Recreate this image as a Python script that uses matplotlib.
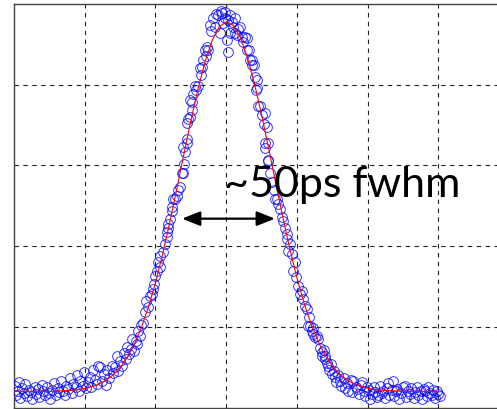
import matplotlib
matplotlib.use("Agg")
import matplotlib.pyplot as plt

# Measured pulse samples (time in grid units, amplitude in grid units)
left_tail = [(0.02,0.27),(0.03,0.15),(0.05,0.21),(0.07,0.31),(0.09,0.12),(0.12,0.24),(0.14,0.18),
             (0.16,0.29),(0.19,0.14),(0.21,0.22),(0.24,0.19),(0.26,0.10),(0.29,0.26),(0.31,0.17),
             (0.34,0.23),(0.36,0.13),(0.39,0.28),(0.41,0.20),(0.44,0.15),(0.46,0.25),(0.49,0.18),
             (0.51,0.11),(0.54,0.22),(0.57,0.30),(0.59,0.16),(0.62,0.24),(0.64,0.19),(0.67,0.33),
             (0.69,0.21),(0.72,0.15),(0.74,0.27),(0.77,0.23),(0.79,0.36),(0.82,0.18),(0.84,0.29),
             (0.87,0.25),(0.89,0.40),(0.92,0.21),(0.94,0.33),(0.97,0.27),(0.99,0.44),(1.02,0.24),
             (1.04,0.31),(1.07,0.38),(1.09,0.26),(1.12,0.47),(1.14,0.34),(1.17,0.29),(1.19,0.51)]
rising_edge = [(1.22,0.50),(1.24,0.33),(1.27,0.41),(1.30,0.28),(1.32,0.46),(1.35,0.37),(1.38,0.52),
               (1.40,0.43),(1.43,0.50),(1.45,0.64),(1.47,0.45),(1.50,0.58),(1.53,0.52),(1.55,0.68),
               (1.58,0.60),(1.60,0.75),(1.62,0.66),(1.65,0.72),(1.67,0.85),(1.69,0.70),(1.72,0.83),
               (1.74,0.79),(1.76,0.95),(1.78,0.89),(1.80,1.02),(1.83,1.05),(1.85,1.18),(1.87,1.32),
               (1.89,1.25),(1.92,1.38),(1.95,1.41),(1.97,1.47),(1.98,1.53),(1.99,1.63),(2.02,1.69),
               (2.04,1.80),(2.06,1.74),(2.07,1.88),(2.11,1.93),(2.13,2.02),(2.16,2.11),(2.16,2.17),
               (2.18,2.23),(2.18,2.27),(2.21,2.33),(2.23,2.48),(2.24,2.44),(2.25,2.58),(2.28,2.58),
               (2.30,2.62),(2.32,2.70),(2.35,2.73),(2.38,2.91),(2.39,2.91),(2.40,3.02),(2.39,3.23),
               (2.42,3.16),(2.45,3.28),(2.44,3.33),(2.45,3.53),(2.46,3.57),(2.49,3.60),(2.52,3.69),
               (2.49,3.81),(2.52,3.78),(2.53,3.88),(2.56,3.98),(2.58,3.93),(2.60,3.98),(2.63,4.21),
               (2.66,4.22),(2.67,4.31),(2.65,4.12),(2.70,4.43),(2.73,4.47),(2.74,4.43),(2.72,4.36)]
peak = [(2.77,4.74),(2.79,4.66),(2.82,4.83),(2.84,4.72),(2.86,4.87),(2.89,4.86),(2.91,4.64),
        (2.93,4.91),(2.94,4.89),(2.96,4.77),(2.98,4.83),(2.99,4.90),(3.01,4.56),(3.02,4.41),
        (3.03,4.80),(3.05,4.64),(3.06,4.86),(3.08,4.78),(3.10,4.72),(3.12,4.83),(3.13,4.64),
        (3.15,4.62),(3.17,4.69),(3.20,4.72),(3.22,4.59),(3.24,4.53),(3.27,4.59),(3.29,4.43),
        (3.30,4.58),(3.32,4.43)]
falling_edge = [(3.34,4.31),(3.36,4.25),(3.37,4.31),(3.39,4.25),(3.41,4.10),(3.42,3.94),(3.43,4.06),
                (3.44,3.96),(3.45,3.73),(3.48,3.73),(3.51,3.63),(3.54,3.51),(3.55,3.65),(3.55,3.28),
                (3.55,3.22),(3.58,3.48),(3.59,3.28),(3.59,3.07),(3.59,3.05),(3.62,2.91),(3.65,2.79),
                (3.67,2.70),(3.69,2.58),(3.72,2.58),(3.74,2.52),(3.76,2.46),(3.79,2.36),(3.81,2.31),
                (3.83,2.23),(3.86,2.15),(3.86,2.09),(3.88,1.94),(3.90,2.02),(3.93,1.90),(3.95,1.69),
                (3.97,1.80),(3.99,1.62),(4.02,1.51),(4.05,1.41),(4.07,1.44),(4.09,1.35),(4.12,1.26),
                (4.14,1.22),(4.16,1.01),(4.17,1.12),(4.19,1.01),(4.21,0.95),(4.23,0.98),(4.23,0.91),
                (4.26,0.87),(4.28,0.89),(4.30,0.85)]
right_tail = [(4.33,0.74),(4.35,0.69),(4.36,0.64),(4.38,0.71),(4.40,0.64),(4.40,0.60),(4.42,0.55),
              (4.44,0.52),(4.46,0.47),(4.48,0.54),(4.50,0.42),(4.52,0.45),(4.54,0.38),(4.56,0.31),
              (4.58,0.40),(4.61,0.33),(4.63,0.27),(4.66,0.36),(4.68,0.24),(4.71,0.30),(4.73,0.21),
              (4.76,0.34),(4.78,0.19),(4.80,0.33),(4.83,0.26),(4.85,0.23),(4.88,0.17),(4.90,0.28),
              (4.92,0.32),(4.95,0.20),(4.97,0.14),(4.99,0.26),(5.02,0.22),(5.04,0.11),(5.06,0.17),
              (5.09,0.25),(5.11,0.19),(5.13,0.13),(5.15,0.15),(5.18,0.27),(5.20,0.18),(5.22,0.21),
              (5.25,0.12),(5.27,0.24),(5.29,0.30),(5.31,0.16),(5.34,0.22),(5.36,0.33),(5.38,0.14),
              (5.40,0.20),(5.42,0.23),(5.45,0.11),(5.47,0.18),(5.50,0.25),(5.53,0.27),(5.55,0.13),
              (5.57,0.21),(5.60,0.17),(5.62,0.24),(5.65,0.12),(5.67,0.19),(5.70,0.26),(5.72,0.15),
              (5.75,0.21),(5.77,0.11),(5.80,0.23),(5.81,0.20),(5.84,0.14),(5.86,0.25),(5.88,0.18),
              (5.91,0.15),(5.93,0.22),(5.95,0.12),(5.98,0.21),(6.00,0.17),(6.03,0.14)]

# Fitted pulse profile, sampled every 0.1 grid units
fit_t = [round(0.1 * i, 1) for i in range(61)]
fit_v = [0.20,0.20,0.20,0.20,0.20,0.20,0.20,0.21,0.21,0.22,0.236,0.257,0.289,0.336,0.403,0.495,
         0.620,0.782,0.988,1.242,1.544,1.893,2.282,2.699,3.128,3.550,3.942,4.281,4.543,4.714,
         4.780,4.736,4.585,4.340,4.015,3.632,3.214,2.784,2.363,1.968,1.610,1.298,1.035,0.820,
         0.649,0.518,0.419,0.348,0.297,0.263,0.239,0.224,0.214,0.208,0.205,0.20,0.20,0.20,
         0.20,0.20,0.20]

label = "~50ps fwhm"
fwhm_span = (2.376, 3.69)   # arrow ends
fwhm_level = 2.34

samples = left_tail + rising_edge + peak + falling_edge + right_tail
sx = [p[0] for p in samples]
sy = [p[1] for p in samples]

fig = plt.figure(figsize=(4.97, 4.10), dpi=100)
ax = fig.add_axes([14 / 497, 1.5 / 410, 495 / 497, 403.5 / 410])
ax.set_xlim(0, 7)
ax.set_ylim(0, 5)

ax.set_xticks(range(1, 7))
ax.set_yticks(range(1, 5))
ax.tick_params(length=0, labelbottom=False, labelleft=False)
ax.grid(True, color="#222222", linestyle=(0, (4, 4)), linewidth=0.8)
for side in ("left", "bottom", "top", "right"):
    ax.spines[side].set_color("#444444")
    ax.spines[side].set_linewidth(1.0)

ax.plot(sx, sy, linestyle="none", marker="o", markersize=7.0, markerfacecolor="none",
        markeredgecolor="#0000ff", markeredgewidth=0.65, alpha=0.85, zorder=3)
ax.plot(fit_t, fit_v, color="red", linewidth=0.8, zorder=4)

ax.annotate("", xy=(fwhm_span[0], fwhm_level), xytext=(fwhm_span[1], fwhm_level),
            arrowprops=dict(arrowstyle="<|-|>,head_length=0.55,head_width=0.22",
                            mutation_scale=20, color="black", lw=1.6,
                            shrinkA=0, shrinkB=0), zorder=5)
ax.text(2.975, 2.625, label, fontsize=31, family="Lato", ha="left", va="baseline",
        color="black", zorder=6)

fig.savefig("out.png", dpi=100)
